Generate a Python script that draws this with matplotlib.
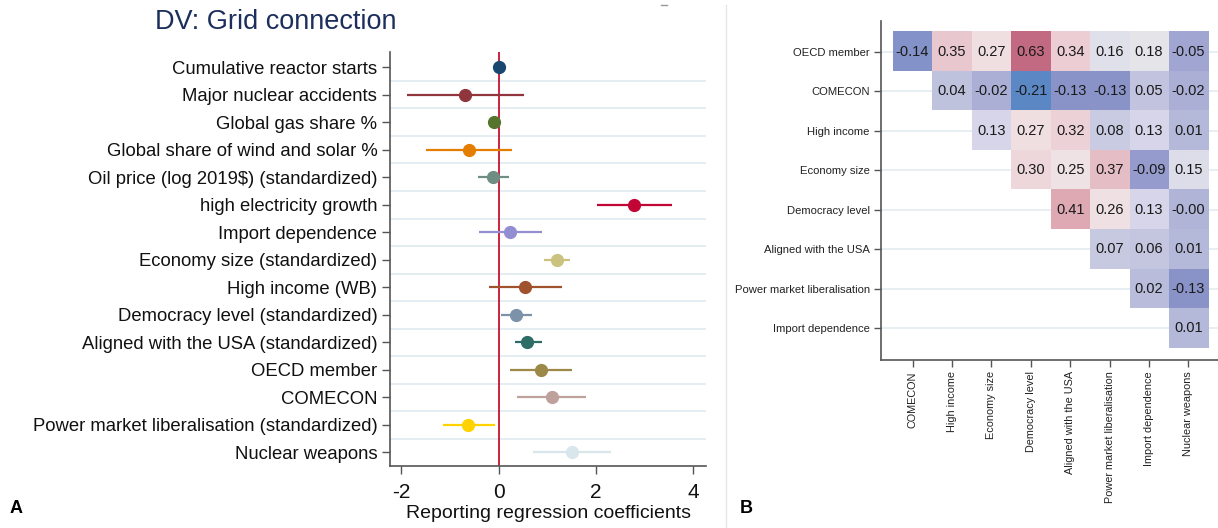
import matplotlib
matplotlib.use('Agg')
import matplotlib.pyplot as plt
import numpy as np
from matplotlib.colors import LinearSegmentedColormap, Normalize

# ---- panel A: regression coefficients ----
coef_labels = ['Cumulative reactor starts', 'Major nuclear accidents', 'Global gas share %',
               'Global share of wind and solar %', 'Oil price (log 2019$) (standardized)',
               'high electricity growth', 'Import dependence', 'Economy size (standardized)',
               'High income (WB)', 'Democracy level (standardized)',
               'Aligned with the USA (standardized)', 'OECD member', 'COMECON',
               'Power market liberalisation (standardized)', 'Nuclear weapons']
coef = [0.01, -0.69, -0.09, -0.62, -0.11, 2.78, 0.23, 1.19, 0.55, 0.35, 0.59, 0.86, 1.09, -0.63, 1.50]
ci_lo = [-0.02, -1.89, -0.13, -1.49, -0.42, 2.01, -0.41, 0.93, -0.21, 0.04, 0.33, 0.23, 0.38, -1.15, 0.70]
ci_hi = [0.04, 0.52, -0.05, 0.28, 0.21, 3.56, 0.88, 1.46, 1.31, 0.68, 0.88, 1.50, 1.80, -0.08, 2.31]
coef_colors = ['#1a476f', '#90353b', '#55752f', '#e37e00', '#6e8e84', '#c10534', '#938dd2',
               '#cac27e', '#a0522d', '#7b92a8', '#2d6d66', '#9c8847', '#bfa19c', '#ffd200', '#d9e6eb']
x_ticks = [-2, 0, 2, 4]

# ---- panel B: correlation matrix ----
corr_rows = ['OECD member', 'COMECON', 'High income', 'Economy size', 'Democracy level',
             'Aligned with the USA', 'Power market liberalisation', 'Import dependence']
corr_cols = ['COMECON', 'High income', 'Economy size', 'Democracy level', 'Aligned with the USA',
             'Power market liberalisation', 'Import dependence', 'Nuclear weapons']
corr_vals = [
    [-0.14, 0.35, 0.27, 0.63, 0.34, 0.16, 0.18, -0.05],
    [None, 0.04, -0.02, -0.21, -0.13, -0.13, 0.05, -0.02],
    [None, None, 0.13, 0.27, 0.32, 0.08, 0.13, 0.01],
    [None, None, None, 0.30, 0.25, 0.37, -0.09, 0.15],
    [None, None, None, None, 0.41, 0.26, 0.13, -0.004],
    [None, None, None, None, None, 0.07, 0.06, 0.01],
    [None, None, None, None, None, None, 0.02, -0.13],
    [None, None, None, None, None, None, None, 0.01],
]

plt.rcParams['font.family'] = ['Liberation Sans', 'DejaVu Sans']

fig = plt.figure(figsize=(12.18, 5.28), dpi=100)
fig.patch.set_facecolor('white')

# ---------- A ----------
axA = fig.add_axes([0.320, 0.117, 0.260, 0.785])
n = len(coef_labels)
ypos = np.arange(n)
for i in range(n - 1):
    axA.axhline(i + 0.5, color='#e4edf1', lw=1.4, zorder=0)
axA.axvline(0, color='#c8102e', lw=1.3, zorder=1)
for i in range(n):
    axA.plot([ci_lo[i], ci_hi[i]], [ypos[i], ypos[i]], color=coef_colors[i], lw=1.6, zorder=2,
             solid_capstyle='butt')
    axA.plot(coef[i], ypos[i], 'o', color=coef_colors[i], ms=8.5, zorder=3)
axA.set_xlim(-2.24, 4.27)
axA.set_ylim(n - 0.5, -0.56)
axA.set_yticks(ypos)
axA.set_yticklabels(coef_labels, fontsize=13.3, color='#111111')
axA.set_xticks(x_ticks)
axA.set_xticklabels([str(t) for t in x_ticks], fontsize=15, color='#111111')
axA.set_xlabel('Reporting regression coefficients', fontsize=14,
               color='#111111', labelpad=2)
for s in ['top', 'right']:
    axA.spines[s].set_visible(False)
for s in ['left', 'bottom']:
    axA.spines[s].set_color('#555555')
    axA.spines[s].set_linewidth(1.2)
axA.tick_params(length=6, width=1, color='#555555', pad=3)
axA.tick_params(axis='x', pad=6)
fig.text(0.127, 0.958, 'DV: Grid connection', fontsize=19.5, color='#1c2f5c',
         ha='left', va='center')

# ---------- B ----------
axB = fig.add_axes([0.7233, 0.318, 0.2767, 0.642])
nr, nc = len(corr_rows), len(corr_cols)
mat = np.ma.masked_invalid(np.array([[np.nan if v is None else v for v in row] for row in corr_vals],
                                    dtype=float))
stops = [(0.0, '#5b87c5'), (0.095, '#8a94c9'), (0.19, '#a2a6d2'), (0.30, '#c0c3de'),
         (0.405, '#d7d6ea'), (0.452, '#e4e5ea'), (0.56, '#f0e2e4'), (0.655, '#ebcdd3'),
         (0.738, '#dea9b3'), (1.0, '#c16a81')]
cmap = LinearSegmentedColormap.from_list('corr', stops)
norm = Normalize(vmin=mat.min(), vmax=mat.max())
for r in range(nr):
    axB.axhline(r, color='#e8eff2', lw=1.4, zorder=0)
axB.imshow(mat, cmap=cmap, norm=norm, aspect='auto', interpolation='nearest', zorder=1)
for r in range(nr):
    for c in range(nc):
        v = corr_vals[r][c]
        if v is not None:
            axB.text(c, r, '%.2f' % v, ha='center', va='center', fontsize=10.5,
                     color='#1a1a1a', zorder=2)
axB.set_xlim(-0.8, nc - 0.25)
axB.set_ylim(nr - 0.2, -0.78)
axB.set_xticks(range(nc))
axB.set_xticklabels(corr_cols, rotation=90, fontsize=7.8, color='#222222')
axB.set_yticks(range(nr))
axB.set_yticklabels(corr_rows, fontsize=8.1, color='#222222')
for s in ['top', 'right']:
    axB.spines[s].set_visible(False)
for s in ['left', 'bottom']:
    axB.spines[s].set_color('#555555')
    axB.spines[s].set_linewidth(1.2)
axB.tick_params(length=5, width=1, color='#555555', pad=3)

# separator, small mark at top and panel letters
fig.add_artist(plt.Line2D([0.596, 0.596], [0.0, 0.99], color='#e6e6e6', lw=1,
                          transform=fig.transFigure))
fig.add_artist(plt.Line2D([0.543, 0.548], [0.991, 0.991], color='#999999', lw=1,
                          transform=fig.transFigure))
fig.text(0.008, 0.02, 'A', fontsize=13, fontweight='bold', ha='left', va='bottom')
fig.text(0.607, 0.02, 'B', fontsize=13, fontweight='bold', ha='left', va='bottom')

fig.savefig('out.png', dpi=100, facecolor='white')
